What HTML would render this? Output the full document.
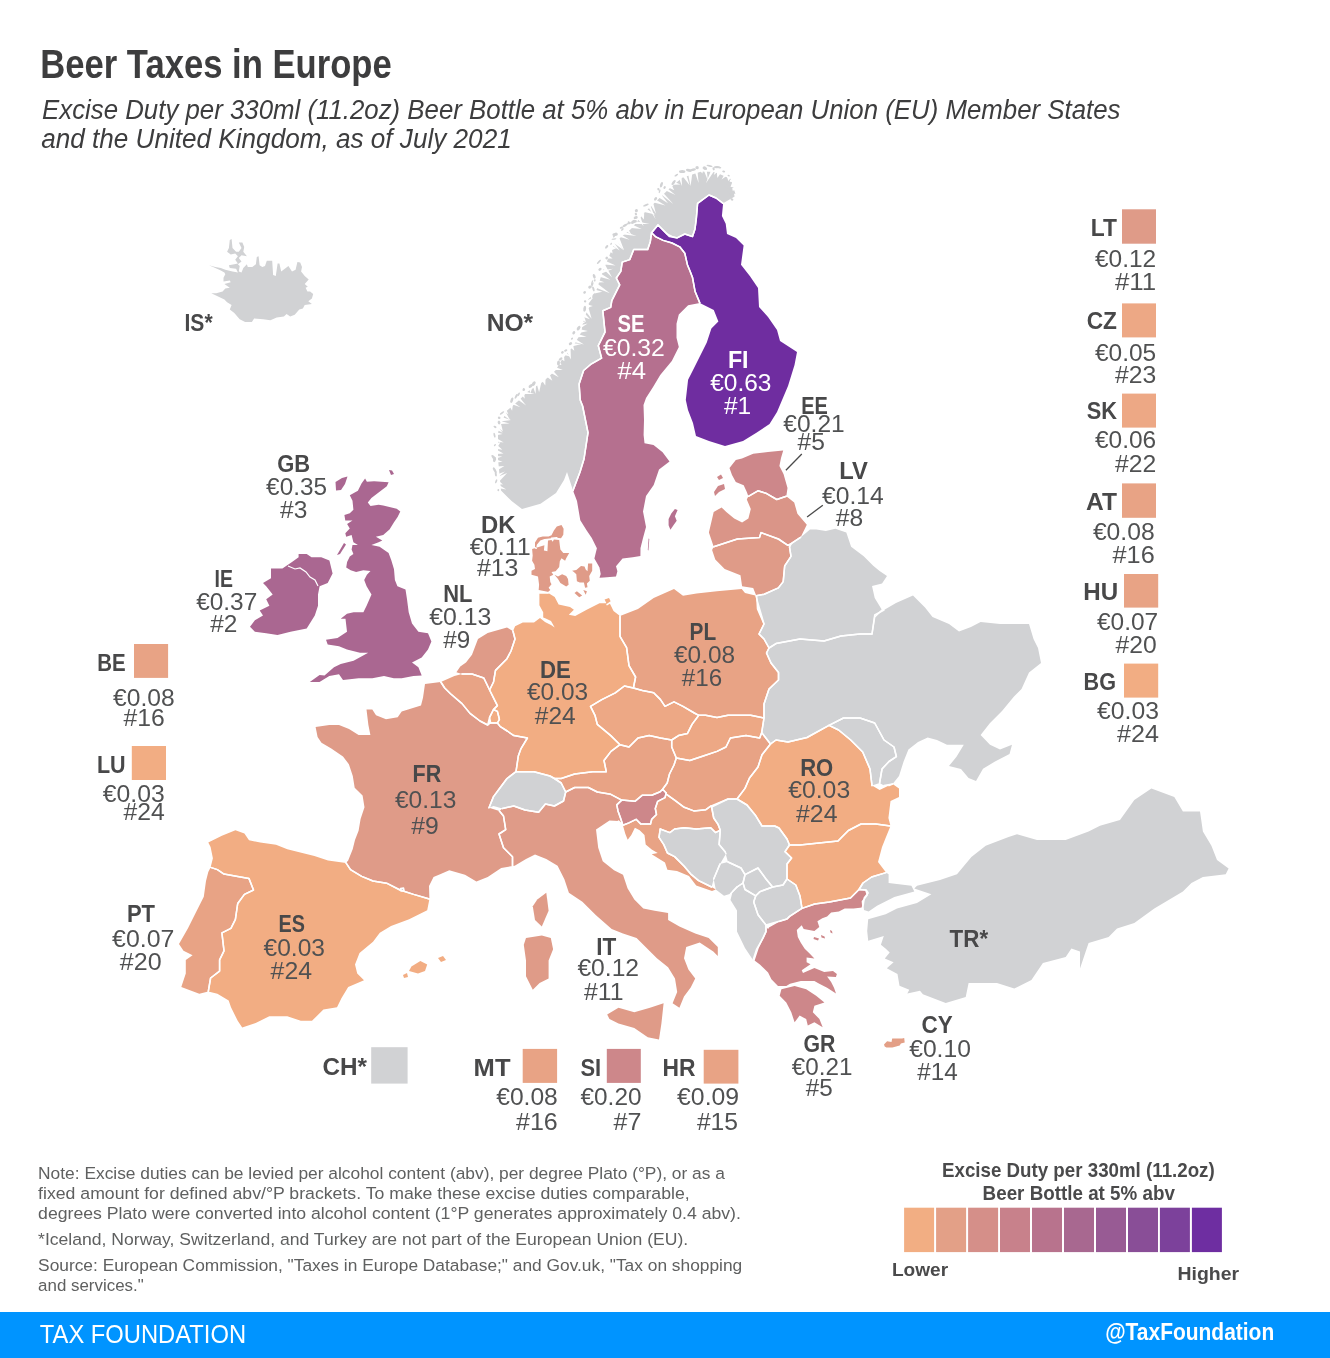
<!DOCTYPE html><html><head><meta charset="utf-8"><title>Beer Taxes in Europe</title><style>html,body{margin:0;padding:0;background:#fff;overflow:hidden}svg{display:block;will-change:transform}text{font-family:"Liberation Sans",Arial,sans-serif}</style></head><body>
<svg width="1330" height="1358" viewBox="0 0 1330 1358">
<rect width="1330" height="1358" fill="#fff"/>
<polygon points="211.3,293.2 224.4,299.5 227.1,302.2 231.6,304.9 229.8,309.4 234.3,313.0 239.7,319.3 245.1,322.0 251.9,322.0 254.1,318.4 263.2,319.3 270.4,320.2 276.7,317.5 283.9,316.6 286.6,313.9 290.2,316.6 294.7,314.8 299.3,309.4 302.9,308.5 304.7,304.9 311.9,304.0 308.3,301.3 311.9,298.6 313.2,294.1 310.1,291.4 307.4,291.4 305.6,287.7 307.8,286.8 304.7,284.1 308.7,279.6 304.7,276.0 301.1,271.5 302.0,267.0 300.2,262.5 297.4,262.0 295.6,269.7 292.0,271.5 288.4,266.1 284.8,268.8 281.2,271.5 279.4,263.4 277.6,263.4 275.8,276.0 273.1,275.1 272.2,260.7 266.8,260.7 265.0,266.1 262.3,267.0 259.6,265.2 258.6,256.2 256.8,257.1 255.9,264.3 252.3,267.0 247.8,267.0 246.9,264.3 243.3,267.9 241.5,272.4 238.8,271.5 239.7,266.1 237.9,264.3 241.5,261.6 238.8,258.0 241.5,255.3 246.9,256.2 243.3,251.7 244.2,247.1 242.4,242.6 238.8,242.6 241.5,248.0 238.8,251.7 236.1,251.7 232.5,248.0 231.6,239.0 229.8,239.9 228.9,248.0 227.1,251.7 230.7,254.4 235.2,253.5 237.9,256.2 235.2,259.8 237.9,263.4 234.3,264.3 228.9,265.2 229.8,267.9 236.1,268.8 237.9,272.4 232.5,271.5 225.3,269.7 220.8,267.9 215.3,267.0 209.0,265.2 215.3,267.9 220.8,270.6 224.4,272.4 225.3,274.2 223.5,277.8 223.5,281.4 229.8,280.5 230.7,282.3 224.4,284.1 229.8,287.7 225.3,288.6 222.6,291.4 216.2,293.2" fill="#d1d2d4"/>
<polygon points="736.0,195.7 730.8,179.0 715.0,172.0 701.4,171.4 682.2,177.8 670.0,188.0 656.7,200.8 645.0,212.0 631.0,229.0 615.0,242.0 602.8,271.3 596.0,291.6 588.1,299.5 589.2,307.4 583.6,318.6 581.3,332.2 573.5,345.7 562.2,359.2 555.4,370.5 543.0,381.8 527.2,392.0 519.3,400.0 506.0,411.6 498.0,432.6 498.0,459.0 501.0,490.5 511.6,501.0 522.0,509.0 540.5,503.7 556.0,493.0 564.0,480.0 567.0,472.0 573.0,490.5 580.0,472.0 584.0,459.0 588.0,432.6 582.6,406.0 580.2,400.0 579.1,384.0 583.6,370.5 591.5,363.8 601.6,358.1 598.3,345.7 605.0,332.2 602.8,310.7 610.7,307.4 611.8,300.6 619.7,284.8 616.3,278.0 620.8,271.3 622.2,262.1 629.8,259.6 633.7,249.4 647.7,249.4 650.3,241.7 651.6,232.7 658.0,225.0 669.5,236.6 677.1,237.9 684.8,234.0 692.5,236.6 695.0,228.9 696.3,218.7 697.6,203.3 709.0,195.0 716.0,198.0 723.1,203.3" fill="#d1d2d4"/>
<polygon points="651.6,232.7 655.4,236.6 663.1,240.4 672.0,243.0 679.7,246.8 684.8,253.2 687.4,264.7 690.0,271.0 692.5,277.5 695.0,291.2 699.8,302.9 688.1,305.2 678.8,314.5 676.5,323.8 676.5,337.8 678.8,347.0 671.8,361.1 660.2,375.1 653.2,386.8 646.0,398.0 643.5,405.0 644.0,420.0 643.6,435.0 644.5,443.3 653.5,445.0 662.6,452.3 669.5,461.6 659.0,469.5 653.7,485.0 646.0,496.0 643.0,511.6 646.0,527.0 643.0,538.0 640.5,548.0 640.4,556.0 632.7,557.3 622.5,558.6 616.0,566.2 617.4,571.3 616.0,576.5 603.7,577.5 599.5,577.7 600.7,574.0 599.5,567.5 594.4,558.6 596.9,548.3 591.8,538.1 586.7,530.4 580.3,520.2 577.0,501.0 573.0,490.5 580.0,472.0 584.0,459.0 588.0,432.6 582.6,406.0 580.2,400.0 579.1,384.0 583.6,370.5 591.5,363.8 601.6,358.1 598.3,345.7 605.0,332.2 602.8,310.7 610.7,307.4 611.8,300.6 619.7,284.8 616.3,278.0 620.8,271.3 622.2,262.1 629.8,259.6 633.7,249.4 647.7,249.4 650.3,241.7" fill="#b5708f"/>
<polygon points="674.9,509.0 677.6,509.9 674.9,516.2 676.7,520.8 674.0,524.4 670.4,529.8 668.6,525.3 668.6,519.0 671.3,513.5" fill="#b5708f"/>
<polygon points="648.6,538.5 649.3,539.0 648.4,550.5 647.8,550.0" fill="#b5708f"/>
<polygon points="658.0,225.0 662.0,229.0 667.0,234.0 672.0,236.5 677.1,237.9 684.8,234.0 692.5,236.6 695.0,228.9 696.3,218.7 697.6,203.3 709.0,195.0 716.0,198.0 723.1,203.3 721.9,216.1 725.7,223.8 727.0,234.0 736.0,237.9 743.6,245.5 741.0,264.7 750.0,276.2 758.0,288.0 759.0,307.0 768.0,317.0 777.0,330.0 780.0,341.0 797.0,352.0 794.5,365.0 788.0,386.0 777.0,412.0 769.5,424.0 756.0,433.0 743.0,441.0 725.0,446.0 709.0,441.0 696.0,436.0 693.0,423.0 688.0,410.0 685.8,400.0 688.1,379.8 692.8,370.5 699.8,356.5 706.8,342.5 711.4,328.5 718.4,321.5 713.8,309.9 699.8,302.9 695.0,291.2 692.5,277.5 690.0,271.0 687.4,264.7 684.8,253.2 679.7,246.8 672.0,243.0 663.1,240.4 655.4,236.6 651.6,232.7" fill="#6f2da0"/>
<polygon points="729.5,467.9 735.8,460.0 742.0,458.5 753.2,453.7 768.0,452.0 783.2,450.5 781.0,458.0 779.4,466.0 783.5,474.0 787.5,488.0 786.3,496.3 776.8,499.5 765.8,493.2 757.9,490.8 748.4,496.3 746.8,492.0 743.7,485.3 735.8,482.1 732.0,475.0" fill="#cd878a"/>
<polygon points="714.0,492.0 718.0,486.0 724.0,484.0 725.0,489.0 719.0,492.0 715.0,496.0" fill="#cd878a"/>
<polygon points="717.0,477.0 721.0,474.5 723.0,478.0 719.0,480.0" fill="#cd878a"/>
<polygon points="713.7,512.1 721.6,507.4 726.3,512.1 734.2,518.4 742.1,522.4 748.4,518.4 750.8,509.0 746.8,499.5 748.4,496.3 757.9,490.8 765.8,493.2 776.8,499.5 786.3,496.3 794.2,502.6 797.4,513.7 806.8,524.7 800.5,537.4 791.1,543.7 787.9,545.3 778.4,539.0 761.1,532.6 759.5,537.4 737.4,539.0 713.7,546.8 708.9,532.6" fill="#da9588"/>
<polygon points="713.7,546.8 737.4,539.0 759.5,537.4 761.1,532.6 778.4,539.0 787.9,545.3 791.1,543.7 789.5,546.8 791.0,556.3 784.7,565.8 783.2,581.6 778.4,587.9 764.2,594.2 756.3,595.8 753.2,587.9 742.1,586.3 740.5,575.3 724.7,569.0 715.3,559.5 712.1,550.0" fill="#df9b88"/>
<polygon points="800.5,537.4 810.0,529.5 816.3,529.5 825.8,531.0 835.3,528.7 846.3,532.6 851.1,546.8 863.7,556.3 873.2,565.8 879.6,571.0 887.0,576.0 882.0,583.5 872.0,586.0 874.7,598.0 882.0,610.0 874.7,617.0 872.0,634.0 860.0,634.0 841.0,636.0 824.0,641.0 800.0,639.0 776.0,643.6 769.0,648.0 764.0,639.0 759.0,634.0 764.0,624.0 757.0,600.0 756.3,595.8 764.2,594.2 778.4,587.9 783.2,581.6 784.7,565.8 791.0,556.3 789.5,546.8 791.1,543.7" fill="#d1d2d4"/>
<polygon points="872.0,634.0 874.7,615.0 884.0,610.0 896.0,603.0 913.0,595.5 925.0,607.5 932.5,617.0 949.0,624.0 959.0,631.6 971.0,627.0 980.6,622.0 1000.0,624.0 1029.0,624.0 1033.5,639.0 1038.0,648.0 1041.0,663.0 1029.0,672.5 1021.5,689.0 1014.0,696.5 1002.0,711.0 990.0,723.0 980.6,735.0 990.0,744.7 1000.0,749.5 1012.0,744.7 1009.5,754.0 995.0,761.5 983.0,768.7 976.0,781.0 968.6,778.0 961.0,769.0 949.0,766.0 956.5,756.7 963.8,744.7 947.0,744.7 937.0,740.0 927.7,737.5 918.0,742.0 908.4,749.5 903.6,761.5 899.0,776.0 892.6,784.0 884.0,785.6 879.6,783.0 882.0,769.0 889.0,761.5 896.4,756.7 894.0,747.0 884.0,740.0 874.7,723.0 860.0,718.0 843.5,718.0 829.0,725.4 807.0,737.5 788.0,742.0 776.0,740.0 770.5,744.0 761.7,732.6 764.0,718.0 764.0,704.0 769.0,689.0 778.5,680.0 778.5,672.5 771.0,663.0 766.5,653.0 769.0,648.0 776.0,643.6 800.0,639.0 824.0,641.0 841.0,636.0 860.0,634.0" fill="#d1d2d4"/>
<polygon points="829.0,725.4 843.5,718.0 860.0,718.0 874.7,723.0 884.0,740.0 894.0,747.0 896.4,756.7 889.0,761.5 882.0,769.0 879.6,783.0 872.0,785.6 870.0,769.0 862.7,752.0 850.7,740.0 838.6,730.0" fill="#d1d2d4"/>
<polygon points="770.5,744.0 776.0,740.0 788.0,742.0 807.0,737.5 829.0,725.4 838.6,730.0 850.7,740.0 862.7,752.0 870.0,769.0 872.0,785.6 879.6,790.0 889.0,785.6 892.6,784.0 899.0,788.4 899.0,797.0 890.5,801.0 888.4,818.0 890.5,826.0 875.8,824.0 861.0,824.0 848.4,830.5 838.0,841.0 819.0,843.0 800.0,845.0 789.5,845.0 787.0,839.0 779.0,828.0 774.7,826.0 762.0,826.0 755.8,815.8 747.0,805.0 737.0,799.0 745.0,788.4 749.5,778.0 758.0,767.0 762.0,754.7" fill="#f2ad83"/>
<polygon points="789.5,845.0 800.0,845.0 819.0,843.0 838.0,841.0 848.4,830.5 861.0,824.0 875.8,824.0 890.5,826.0 886.0,837.0 882.0,847.0 878.0,862.0 886.0,872.6 871.6,877.0 863.0,883.0 859.0,889.5 850.5,898.0 829.5,902.0 814.7,904.0 802.0,908.4 800.0,896.0 795.8,885.0 787.0,879.0 787.0,864.0 791.6,858.0 785.0,851.6" fill="#f2ad83"/>
<polygon points="859.0,889.5 863.0,883.0 871.6,877.0 886.0,872.6 888.6,874.3 888.6,882.9 911.4,885.7 914.3,891.4 894.3,897.0 877.0,905.7 868.6,911.4 863.2,909.8 862.4,901.5 867.4,894.9 865.7,890.0" fill="#d1d2d4"/>
<polygon points="914.3,888.6 917.0,885.7 940.0,880.0 957.0,874.3 971.4,857.0 985.7,845.7 1008.6,837.0 1017.0,834.3 1037.0,840.0 1065.7,840.0 1088.6,831.4 1100.0,825.7 1120.0,820.0 1134.3,800.0 1151.4,788.6 1174.3,797.0 1182.9,811.4 1200.0,811.4 1202.9,831.4 1211.4,845.7 1217.0,860.0 1228.6,868.6 1225.7,874.3 1202.9,877.0 1191.4,882.9 1182.9,891.4 1168.6,900.0 1154.3,908.6 1134.3,922.9 1117.0,928.6 1108.6,937.0 1088.6,942.9 1085.7,951.4 1080.0,968.6 1080.0,951.4 1071.4,948.6 1065.7,957.0 1042.9,962.9 1031.4,980.0 1014.3,988.6 997.0,982.9 968.6,982.9 965.7,997.0 945.7,1002.9 922.9,994.3 920.0,990.7 907.3,993.6 909.3,989.7 899.5,985.8 897.5,974.1 886.8,968.2 893.6,962.3 884.8,958.4 889.7,952.6 885.8,948.7 880.9,944.7 883.8,936.0 868.2,940.8 867.2,931.0 868.2,919.3 885.7,914.3 897.0,908.6 917.0,902.9 931.4,894.3" fill="#d1d2d4"/>
<polygon points="766.0,925.0 768.1,928.0 779.7,921.4 787.0,919.0 789.6,916.4 799.6,909.8 802.0,908.4 814.7,904.0 829.5,902.0 850.5,898.0 859.0,889.5 866.2,890.0 868.2,893.0 864.3,897.8 863.3,904.7 862.3,907.6 853.5,908.6 844.7,908.6 838.9,911.5 831.1,912.5 827.1,916.4 822.3,918.3 817.4,921.3 819.3,927.1 814.4,931.0 803.7,929.1 801.7,925.2 796.8,930.1 797.8,936.9 800.8,942.8 804.7,948.7 809.6,953.5 814.4,958.4 806.6,957.4 806.6,962.3 810.5,964.3 801.7,970.2 803.0,973.0 814.4,968.0 824.2,972.0 833.0,971.0 836.9,974.1 835.9,977.0 827.1,976.5 831.1,981.9 834.0,987.8 836.0,993.6 827.1,987.8 819.3,983.8 814.4,980.9 800.8,980.9 790.0,983.8 786.3,985.9 778.0,985.9 771.4,979.3 768.1,972.6 759.9,964.4 753.2,959.4 756.5,949.5 763.2,937.9 766.0,931.6" fill="#cd878a"/>
<polygon points="781.4,989.2 794.6,985.9 806.2,989.2 816.1,995.8 824.4,1002.4 814.4,1005.7 812.8,1012.3 819.4,1019.0 822.7,1027.2 814.4,1022.3 807.8,1025.6 806.2,1019.0 799.6,1015.6 794.6,1022.3 791.3,1012.3 786.3,1002.4 779.7,995.8" fill="#cd878a"/>
<polygon points="814.0,937.0 819.0,938.5 818.0,940.5 813.5,939.0" fill="#cd878a"/>
<polygon points="821.0,935.0 824.5,936.5 825.0,938.5 821.5,937.5" fill="#cd878a"/>
<polygon points="830.0,930.0 832.0,931.0 832.5,933.5 830.5,932.5" fill="#cd878a"/>
<polygon points="884.0,1044.4 887.1,1041.3 891.5,1042.0 892.2,1038.4 902.1,1038.4 904.2,1037.9 904.7,1042.5 900.9,1043.5 899.7,1045.4 892.4,1047.6 886.4,1047.6 884.7,1046.4" fill="#e39f86"/>
<polygon points="711.6,807.0 728.0,799.0 737.0,799.0 747.0,805.0 755.8,815.8 762.0,826.0 774.7,826.0 779.0,828.0 787.0,839.0 789.5,845.0 785.0,851.6 791.6,858.0 787.0,864.0 787.0,879.0 783.0,885.0 772.6,887.0 766.0,879.0 758.0,868.0 745.0,874.7 741.0,868.0 728.0,862.0 725.1,851.8 719.1,844.6 720.3,830.2 717.9,824.1 713.7,818.0" fill="#d1d2d4"/>
<polygon points="660.2,829.0 669.8,832.6 674.6,829.0 684.2,827.7 696.2,829.0 710.7,827.7 715.5,832.6 720.3,830.2 719.1,844.6 725.1,851.8 726.0,853.7 720.0,864.0 713.7,879.0 711.6,887.0 698.6,880.7 691.4,874.7 684.2,866.2 674.6,856.6 667.4,853.0 663.8,844.6 659.0,837.4" fill="#d1d2d4"/>
<polygon points="713.7,879.0 720.0,864.0 728.0,862.0 741.0,868.0 745.0,874.7 743.0,883.0 737.0,887.0 730.5,893.7 724.0,895.8 715.8,889.5" fill="#d1d2d4"/>
<polygon points="745.0,874.7 758.0,868.0 766.0,879.0 772.6,887.0 760.0,891.6 755.8,895.8 745.0,889.5 743.0,883.0" fill="#d1d2d4"/>
<polygon points="755.8,895.8 760.0,891.6 772.6,887.0 783.0,885.0 787.0,879.0 795.8,885.0 800.0,896.0 802.0,908.4 799.6,909.8 789.6,916.4 787.0,919.0 766.0,925.0 758.0,914.7 753.7,902.0" fill="#d1d2d4"/>
<polygon points="737.0,887.0 743.0,883.0 745.0,889.5 755.8,895.8 753.7,902.0 758.0,914.7 766.0,925.0 766.0,931.6 758.0,948.0 753.7,961.0 745.0,948.0 737.0,931.6 737.0,910.5 730.5,900.0 732.6,891.6" fill="#d1d2d4"/>
<polygon points="666.2,792.9 666.2,794.1 674.6,800.1 684.2,807.3 693.8,810.9 705.9,809.7 710.7,806.1 711.6,807.0 713.7,818.0 717.9,824.1 720.3,830.2 715.5,832.6 710.7,827.7 696.2,829.0 684.2,827.7 674.6,829.0 669.8,832.6 660.2,829.0 659.0,837.4 663.8,844.6 667.4,853.0 674.6,856.6 684.2,866.2 691.4,874.7 698.6,880.7 711.6,887.0 715.8,889.5 712.0,891.0 696.2,885.5 689.0,875.9 677.0,871.0 667.4,869.8 665.0,862.6 651.7,854.2 657.7,853.0 651.7,849.4 645.7,844.6 644.5,835.0 639.7,830.2 634.9,827.7 631.3,835.0 627.7,839.8 625.3,833.8 622.9,825.3 628.9,822.9 636.1,819.3 640.9,824.1 650.5,824.1 651.7,819.3 656.5,814.5 655.3,808.5 657.7,801.3 665.0,797.7" fill="#e8a385"/>
<polygon points="616.8,804.9 621.7,800.1 634.9,801.3 642.1,795.3 651.7,795.3 660.2,791.7 662.6,789.2 666.2,792.9 665.0,797.7 657.7,801.3 655.3,808.5 656.5,814.5 651.7,819.3 650.5,824.1 640.9,824.1 636.1,819.3 628.9,822.9 622.9,825.3 620.5,818.1 618.0,810.9" fill="#cd878a"/>
<polygon points="662.6,789.2 667.2,783.0 669.5,774.0 674.0,765.0 676.3,758.0 689.8,760.5 703.3,756.0 717.0,751.4 726.0,747.0 730.4,738.0 746.0,735.6 759.7,738.0 761.7,732.6 770.5,744.0 762.0,754.7 758.0,767.0 749.5,778.0 745.0,788.4 737.0,799.0 728.0,799.0 710.7,806.1 705.9,809.7 693.8,810.9 684.2,807.3 674.6,800.1 666.2,794.1 666.2,792.9" fill="#e8a385"/>
<polygon points="698.8,715.3 705.6,715.3 717.0,717.6 728.0,715.3 739.4,715.3 750.7,715.3 764.0,718.0 761.7,732.6 759.7,738.0 746.0,735.6 730.4,738.0 726.0,747.0 717.0,751.4 703.3,756.0 689.8,760.5 676.3,758.0 671.7,747.0 671.7,740.0 678.5,735.6 687.5,733.4 692.0,724.4" fill="#eda885"/>
<polygon points="590.5,706.3 601.8,699.6 615.3,692.8 624.4,686.0 633.4,688.0 642.4,690.5 653.7,692.8 660.5,699.6 665.0,706.3 674.0,701.8 683.0,706.3 694.3,713.0 698.8,715.3 692.0,724.4 687.5,733.4 678.5,735.6 671.7,740.0 660.5,738.0 649.2,735.6 638.0,738.0 629.0,747.0 620.0,744.7 610.8,735.6 597.3,724.4 595.0,715.3" fill="#eda885"/>
<polygon points="620.0,744.7 629.0,747.0 638.0,738.0 649.2,735.6 660.5,738.0 671.7,740.0 671.7,747.0 676.3,758.0 674.0,765.0 669.5,774.0 667.2,783.0 662.6,789.2 660.2,791.7 651.7,795.3 642.1,795.3 634.9,801.3 621.7,800.1 610.8,794.3 597.3,792.0 588.3,787.5 574.7,787.5 565.7,792.0 561.2,783.0 554.4,778.5 561.2,778.5 574.7,774.0 592.8,771.7 606.3,771.7 604.0,760.5 611.0,751.4" fill="#e8a385"/>
<polygon points="539.4,593.0 548.3,593.0 554.7,597.0 558.6,604.6 570.0,607.1 573.9,609.7 568.8,614.8 575.2,616.0 586.7,609.7 599.5,603.3 609.7,603.3 613.5,611.0 620.0,616.0 620.0,636.4 626.6,647.7 629.0,665.7 635.6,677.0 633.4,688.0 624.4,686.0 615.3,692.8 601.8,699.6 590.5,706.3 595.0,715.3 597.3,724.4 610.8,735.6 620.0,744.7 611.0,751.4 604.0,760.5 606.3,771.7 592.8,771.7 574.7,774.0 561.2,778.5 554.4,778.5 550.0,776.0 534.0,771.7 516.0,771.7 518.3,756.0 521.0,748.6 527.4,738.0 513.8,735.6 507.2,731.0 500.3,726.6 497.4,723.0 499.4,719.3 497.4,711.4 493.5,709.5 497.4,705.6 493.5,697.8 489.6,690.0 493.5,682.0 495.5,670.4 507.0,658.7 511.0,651.0 515.0,639.0 513.0,631.3 515.1,626.3 522.8,622.5 529.2,622.5 534.0,622.5 540.0,618.0 545.0,622.0 551.0,625.0 554.7,627.6 551.0,621.0 545.8,618.6 543.2,617.4 543.2,612.2 539.4,605.2" fill="#f2ad83"/>
<polygon points="604.6,599.5 609.0,598.0 611.0,602.0 607.0,604.6" fill="#f2ad83"/>
<polygon points="532.1,548.9 544.4,545.3 543.9,550.6 547.4,551.2 548.0,540.6 551.5,540.0 552.7,541.8 553.9,539.4 559.2,540.0 559.8,545.3 560.4,549.5 563.3,553.0 569.2,553.0 566.2,558.3 565.1,560.7 561.5,558.3 559.8,561.2 559.2,567.1 555.6,571.3 551.5,571.9 553.3,574.8 549.7,576.6 550.3,581.9 551.5,584.2 548.6,587.8 550.3,590.1 547.4,592.5 538.6,590.7 539.1,584.8 538.0,576.6 531.5,574.8 531.5,570.7 535.0,568.9 534.4,564.8 532.1,560.7 532.7,555.4" fill="#df9b88"/>
<polygon points="554.5,574.8 558.0,578.9 560.4,583.1 566.2,586.6 568.6,584.8 568.0,578.9 566.2,576.0 562.1,574.2 558.0,576.6" fill="#df9b88"/>
<polygon points="572.1,570.7 576.3,570.1 581.0,566.0 584.5,566.6 585.7,569.5 587.5,571.3 588.1,563.6 592.2,563.6 592.2,570.7 589.2,576.0 589.8,580.7 586.9,583.6 587.5,587.2 585.1,587.8 583.9,582.5 579.8,582.5 576.9,581.3 576.3,574.2 573.9,571.9" fill="#df9b88"/>
<polygon points="574.5,593.1 576.9,591.3 582.2,595.4 579.2,597.2" fill="#df9b88"/>
<polygon points="535.0,547.7 535.0,542.4 538.0,537.7 542.7,536.5 548.6,536.5 551.5,535.3 553.9,530.6 556.8,526.5 561.5,525.0 563.6,528.8 563.3,534.7 561.0,538.3 556.8,537.7 551.5,538.3 544.4,538.9 540.3,540.6 536.8,544.7 536.2,548.3" fill="#df9b88"/>
<polygon points="583.3,590.1 586.9,591.3 585.7,594.8" fill="#df9b88"/>
<polygon points="620.0,616.0 638.0,609.0 653.7,598.0 674.0,589.0 683.0,595.8 696.6,593.5 717.0,591.3 741.7,589.0 745.0,593.0 756.3,595.8 757.0,600.0 757.5,609.0 764.0,624.0 759.0,634.0 764.0,639.0 769.0,648.0 766.5,653.0 771.0,663.0 778.5,672.5 778.5,680.0 769.0,689.0 764.0,704.0 764.0,718.0 750.7,715.3 739.4,715.3 728.0,715.3 717.0,717.6 705.6,715.3 698.8,715.3 694.3,713.0 683.0,706.3 674.0,701.8 665.0,706.3 660.5,699.6 653.7,692.8 642.4,690.5 633.4,688.0 635.6,677.0 629.0,665.7 626.6,647.7 620.0,636.4" fill="#e8a385"/>
<polygon points="466.0,662.6 472.0,654.7 478.0,639.0 487.7,633.0 507.0,627.4 513.0,631.3 515.0,639.0 511.0,651.0 507.0,658.7 495.5,670.4 493.5,682.0 489.6,690.0 483.8,678.0 472.0,674.0 462.0,674.0 456.4,672.3 460.3,666.5" fill="#df9b88"/>
<polygon points="440.8,682.0 454.4,676.0 462.0,674.0 472.0,674.0 483.8,678.0 489.6,690.0 493.5,697.8 497.4,705.6 493.5,709.5 489.6,717.3 487.7,725.0 480.0,721.0 470.0,713.4 462.0,703.6 450.5,693.8 444.7,688.0" fill="#e8a385"/>
<polygon points="493.5,709.5 497.4,711.4 499.4,719.3 497.4,723.0 490.6,723.0 489.6,717.3" fill="#f2ad83"/>
<polygon points="425.0,684.0 440.8,682.0 444.7,688.0 450.5,693.8 462.0,703.6 470.0,713.4 480.0,721.0 487.7,725.0 490.6,723.0 497.4,723.0 500.3,726.6 507.2,731.0 513.8,735.6 527.4,738.0 521.0,748.6 518.3,756.0 516.0,771.7 507.0,778.5 500.3,787.5 493.5,796.6 489.0,807.8 499.4,811.0 503.5,816.0 505.7,829.6 499.0,834.0 503.5,847.7 512.5,856.7 512.5,866.0 501.2,868.0 487.7,877.0 476.4,881.5 465.0,874.7 449.3,870.2 440.7,874.0 433.5,877.0 429.0,886.0 429.4,899.0 413.6,894.4 400.0,890.0 386.6,883.2 373.0,881.0 361.7,876.4 350.5,869.6 346.0,862.9 348.2,860.6 352.7,849.3 355.0,840.0 358.6,830.7 360.6,819.0 364.5,807.2 362.6,795.5 354.7,787.7 352.8,776.0 348.9,764.2 343.0,756.4 331.3,748.6 321.5,742.7 317.6,736.9 315.6,727.0 329.3,725.0 339.0,725.0 349.0,729.0 358.6,735.0 370.4,735.0 368.4,725.0 366.5,709.5 372.3,709.5 376.0,715.3 386.0,719.3 397.7,717.3 401.7,711.4 421.0,705.6 423.0,697.8" fill="#df9b88"/>
<polygon points="546.3,892.8 548.6,910.8 541.8,926.6 535.0,919.9 532.8,906.3 537.3,899.6" fill="#df9b88"/>
<polygon points="516.0,771.7 534.0,771.7 550.0,776.0 554.4,778.5 561.2,783.0 565.7,792.0 563.5,801.0 554.4,806.0 545.4,804.0 538.6,812.3 525.0,810.0 513.8,806.0 502.5,808.5 493.5,806.0 489.0,807.8 493.5,796.6 500.3,787.5 507.0,778.5" fill="#d1d2d4"/>
<polygon points="499.4,811.0 502.5,808.5 513.8,806.0 525.0,810.0 538.6,812.3 545.4,804.0 554.4,806.0 563.5,801.0 565.7,792.0 574.7,787.5 588.3,787.5 597.3,792.0 610.8,794.3 621.7,800.1 616.8,804.9 618.0,810.9 620.5,818.1 622.9,825.3 618.5,821.0 609.5,820.6 596.0,829.6 598.2,847.7 602.7,861.2 614.0,870.2 623.0,874.7 627.5,888.3 634.3,899.6 643.3,908.6 654.6,910.8 668.1,913.0 668.1,919.9 679.4,926.6 695.2,933.4 708.7,938.0 717.8,947.0 717.8,956.0 713.3,951.4 699.7,942.4 686.2,947.0 684.0,958.2 688.4,969.5 695.2,978.5 690.7,987.5 684.0,996.6 679.4,1007.8 672.6,1003.3 677.2,992.0 675.0,978.5 668.1,967.2 656.9,958.2 645.6,947.0 636.6,938.0 623.0,933.4 611.7,928.9 596.0,915.3 582.4,901.8 568.9,892.8 564.4,879.3 557.6,865.7 546.3,859.0 535.0,854.4 526.0,859.0 514.7,865.7 512.5,866.0 512.5,856.7 503.5,847.7 499.0,834.0 505.7,829.6 503.5,816.0" fill="#df9b88"/>
<polygon points="607.2,1014.6 618.5,1007.8 634.3,1012.3 650.0,1007.8 663.6,1003.3 661.4,1023.6 659.0,1039.4 647.8,1037.2 634.3,1028.1 618.5,1023.6 609.5,1019.1" fill="#df9b88"/>
<polygon points="526.0,938.0 541.8,935.6 550.8,938.0 553.1,949.2 548.6,960.5 548.6,978.5 539.6,983.0 532.8,989.8 526.0,976.3 526.0,960.5 523.8,944.7" fill="#df9b88"/>
<polygon points="208.3,842.6 221.9,835.8 235.4,830.2 244.4,833.5 249.0,840.3 260.2,842.6 276.0,844.8 287.3,849.3 305.3,853.8 314.4,856.0 328.0,860.6 346.0,862.9 350.5,869.6 361.7,876.4 373.0,881.0 386.6,883.2 400.0,890.0 413.6,894.4 429.4,899.0 427.2,910.2 409.1,919.3 391.0,926.0 379.8,932.8 373.0,941.8 359.5,953.0 355.0,964.4 357.2,973.4 364.0,980.2 348.2,987.0 341.4,998.2 337.0,1007.2 323.4,1009.5 312.0,1020.8 300.8,1020.8 287.3,1016.3 269.3,1016.3 255.7,1023.0 242.2,1027.5 237.7,1020.8 231.0,1007.2 228.7,1000.5 217.4,993.7 208.3,991.4 210.6,978.0 219.6,971.1 219.6,959.9 224.0,950.8 221.9,932.8 230.9,928.3 235.4,919.3 237.7,903.5 244.4,894.4 253.5,890.0 249.0,878.6 237.7,876.4 224.0,874.1 217.4,869.6 210.6,867.4 212.9,858.3 210.6,847.0" fill="#f2ad83"/>
<polygon points="400.5,888.5 403.5,888.0 404.0,890.5 401.0,891.0" fill="#d1d2d4"/>
<polygon points="411.4,966.6 420.4,961.0 427.2,964.4 425.0,971.0 418.0,973.4 409.0,971.0" fill="#f2ad83"/>
<polygon points="438.0,958.0 443.0,956.0 446.0,960.0 441.0,962.0" fill="#f2ad83"/>
<polygon points="403.0,975.0 407.0,973.0 408.0,977.0 404.0,978.0" fill="#f2ad83"/>
<polygon points="210.6,867.4 217.4,869.6 224.0,874.1 237.7,876.4 249.0,878.6 253.5,890.0 244.4,894.4 237.7,903.5 235.4,919.3 230.9,928.3 221.9,932.8 224.0,950.8 219.6,959.9 219.6,971.1 210.6,978.0 208.3,991.4 199.3,993.7 181.3,987.0 185.8,973.4 185.8,959.9 192.6,955.3 183.5,950.8 179.0,944.0 188.0,928.3 197.0,910.2 203.8,896.7 206.0,881.0 208.3,871.9" fill="#e8a385"/>
<polygon points="365.1,478.6 366.9,481.7 374.1,481.3 388.6,482.2 386.8,486.2 378.6,492.6 371.4,498.0 367.8,502.5 370.5,506.1 378.6,504.7 383.2,505.6 396.7,508.8 400.3,511.5 397.6,516.9 394.0,522.3 389.5,529.5 383.2,535.0 375.9,536.8 382.3,540.4 378.6,542.2 371.4,544.9 379.6,546.7 388.6,553.0 391.3,560.2 394.0,569.3 394.9,580.0 397.4,586.3 405.5,589.6 407.0,599.3 408.7,612.2 412.0,623.6 418.4,631.7 428.0,633.3 431.4,641.4 428.0,649.5 421.7,657.6 412.0,662.4 418.4,667.3 421.7,675.4 413.4,676.0 401.7,678.2 393.8,678.2 384.0,676.0 372.3,678.2 358.6,678.2 343.0,680.0 339.0,674.3 329.3,676.0 319.5,682.0 309.8,682.0 319.6,675.0 324.5,675.4 334.0,667.3 340.7,664.0 353.6,660.8 368.2,652.7 360.0,652.7 347.0,649.5 339.0,646.2 327.7,644.6 326.0,639.8 337.5,638.0 347.0,631.7 345.5,618.7 340.7,618.7 347.0,613.8 353.6,612.2 363.4,612.2 366.6,605.7 371.5,594.4 366.6,586.3 364.2,580.0 366.9,574.7 370.5,571.1 363.3,570.2 356.1,572.0 350.7,570.2 346.2,567.4 347.1,562.0 349.8,556.6 353.4,553.9 351.6,549.4 352.5,544.9 357.9,544.9 353.4,542.2 351.6,535.0 346.2,536.8 345.3,533.2 349.8,528.6 347.1,524.1 352.5,520.5 345.3,520.5 344.4,515.1 349.8,513.3 353.4,509.7 352.5,500.7 349.8,495.3 357.9,490.8 361.5,483.5" fill="#aa6791"/>
<polygon points="335.5,482.0 342.0,478.0 347.5,476.5 345.0,484.0 341.0,490.0 336.0,490.5" fill="#aa6791"/>
<polygon points="344.0,543.0 346.0,544.5 340.0,554.0 337.0,555.0" fill="#aa6791"/>
<polygon points="389.0,470.0 392.0,470.5 394.0,474.0 391.0,475.0" fill="#aa6791"/>
<polygon points="298.6,554.0 306.7,554.0 311.5,557.2 321.3,557.2 329.4,560.4 332.6,573.4 327.7,583.0 319.6,586.3 318.0,594.4 318.0,605.7 314.8,615.5 306.7,628.4 290.5,631.7 277.5,635.0 266.2,633.3 254.9,631.7 250.0,626.8 254.9,620.3 263.0,615.5 259.7,610.6 269.4,605.7 266.2,599.3 272.7,594.4 266.2,586.3 263.0,583.0 271.0,578.2 271.0,568.5 282.4,568.5 292.0,562.0 298.6,557.2" fill="#aa6791"/>
<g fill="none" stroke="#fff" stroke-width="1.5" stroke-linejoin="round" stroke-linecap="round">
<polyline points="573.0,490.5 580.0,472.0 584.0,459.0 588.0,432.6 582.6,406.0 580.2,400.0 579.1,384.0 583.6,370.5 591.5,363.8 601.6,358.1 598.3,345.7 605.0,332.2 602.8,310.7 610.7,307.4 611.8,300.6 619.7,284.8 616.3,278.0 620.8,271.3 622.2,262.1 629.8,259.6 633.7,249.4 647.7,249.4 650.3,241.7 651.6,232.7 658.0,225.0 669.5,236.6 677.1,237.9 684.8,234.0 692.5,236.6 695.0,228.9 696.3,218.7 697.6,203.3 709.0,195.0 716.0,198.0 723.1,203.3"/>
<polyline points="651.6,232.7 655.4,236.6 663.1,240.4 672.0,243.0 679.7,246.8 684.8,253.2 687.4,264.7 690.0,271.0 692.5,277.5 695.0,291.2 699.8,302.9"/>
<polyline points="573.0,490.5 580.0,472.0 584.0,459.0 588.0,432.6 582.6,406.0 580.2,400.0 579.1,384.0 583.6,370.5 591.5,363.8 601.6,358.1 598.3,345.7 605.0,332.2 602.8,310.7 610.7,307.4 611.8,300.6 619.7,284.8 616.3,278.0 620.8,271.3 622.2,262.1 629.8,259.6 633.7,249.4 647.7,249.4 650.3,241.7 651.6,232.7"/>
<polyline points="658.0,225.0 662.0,229.0 667.0,234.0 672.0,236.5 677.1,237.9 684.8,234.0 692.5,236.6 695.0,228.9 696.3,218.7 697.6,203.3 709.0,195.0 716.0,198.0 723.1,203.3"/>
<polyline points="699.8,302.9 695.0,291.2 692.5,277.5 690.0,271.0 687.4,264.7 684.8,253.2 679.7,246.8 672.0,243.0 663.1,240.4 655.4,236.6 651.6,232.7 658.0,225.0"/>
<polyline points="786.3,496.3 776.8,499.5 765.8,493.2 757.9,490.8 748.4,496.3"/>
<polyline points="748.4,496.3 757.9,490.8 765.8,493.2 776.8,499.5 786.3,496.3"/>
<polyline points="800.5,537.4 791.1,543.7 787.9,545.3 778.4,539.0 761.1,532.6 759.5,537.4 737.4,539.0 713.7,546.8"/>
<polyline points="713.7,546.8 737.4,539.0 759.5,537.4 761.1,532.6 778.4,539.0 787.9,545.3 791.1,543.7 789.5,546.8 791.0,556.3 784.7,565.8 783.2,581.6 778.4,587.9 764.2,594.2 756.3,595.8"/>
<polyline points="882.0,610.0 874.7,617.0 872.0,634.0 860.0,634.0 841.0,636.0 824.0,641.0 800.0,639.0 776.0,643.6 769.0,648.0 764.0,639.0 759.0,634.0 764.0,624.0 757.0,600.0 756.3,595.8 764.2,594.2 778.4,587.9 783.2,581.6 784.7,565.8 791.0,556.3 789.5,546.8 791.1,543.7 800.5,537.4"/>
<polyline points="872.0,634.0 874.7,615.0 884.0,610.0"/>
<polyline points="892.6,784.0 884.0,785.6"/>
<polyline points="879.6,783.0 882.0,769.0 889.0,761.5 896.4,756.7 894.0,747.0 884.0,740.0 874.7,723.0 860.0,718.0 843.5,718.0 829.0,725.4 807.0,737.5 788.0,742.0 776.0,740.0 770.5,744.0 761.7,732.6 764.0,718.0 764.0,704.0 769.0,689.0 778.5,680.0 778.5,672.5 771.0,663.0 766.5,653.0 769.0,648.0 776.0,643.6 800.0,639.0 824.0,641.0 841.0,636.0 860.0,634.0 872.0,634.0"/>
<polyline points="829.0,725.4 843.5,718.0 860.0,718.0 874.7,723.0 884.0,740.0 894.0,747.0 896.4,756.7 889.0,761.5 882.0,769.0 879.6,783.0"/>
<polyline points="872.0,785.6 870.0,769.0 862.7,752.0 850.7,740.0 838.6,730.0 829.0,725.4"/>
<polyline points="770.5,744.0 776.0,740.0 788.0,742.0 807.0,737.5 829.0,725.4 838.6,730.0 850.7,740.0 862.7,752.0 870.0,769.0 872.0,785.6"/>
<polyline points="889.0,785.6 892.6,784.0"/>
<polyline points="890.5,826.0 875.8,824.0 861.0,824.0 848.4,830.5 838.0,841.0 819.0,843.0 800.0,845.0 789.5,845.0 787.0,839.0 779.0,828.0 774.7,826.0 762.0,826.0 755.8,815.8 747.0,805.0 737.0,799.0 745.0,788.4 749.5,778.0 758.0,767.0 762.0,754.7 770.5,744.0"/>
<polyline points="789.5,845.0 800.0,845.0 819.0,843.0 838.0,841.0 848.4,830.5 861.0,824.0 875.8,824.0 890.5,826.0"/>
<polyline points="886.0,872.6 871.6,877.0 863.0,883.0 859.0,889.5 850.5,898.0 829.5,902.0 814.7,904.0 802.0,908.4 800.0,896.0 795.8,885.0 787.0,879.0 787.0,864.0 791.6,858.0 785.0,851.6 789.5,845.0"/>
<polyline points="859.0,889.5 863.0,883.0 871.6,877.0 886.0,872.6"/>
<polyline points="863.2,909.8 862.4,901.5 867.4,894.9 865.7,890.0 859.0,889.5"/>
<polyline points="766.0,925.0 768.1,928.0"/>
<polyline points="779.7,921.4 787.0,919.0 789.6,916.4 799.6,909.8 802.0,908.4 814.7,904.0 829.5,902.0 850.5,898.0 859.0,889.5 866.2,890.0 868.2,893.0 864.3,897.8 863.3,904.7 862.3,907.6"/>
<polyline points="753.2,959.4 756.5,949.5 763.2,937.9 766.0,931.6 766.0,925.0"/>
<polyline points="711.6,807.0 728.0,799.0 737.0,799.0 747.0,805.0 755.8,815.8 762.0,826.0 774.7,826.0 779.0,828.0 787.0,839.0 789.5,845.0 785.0,851.6 791.6,858.0 787.0,864.0 787.0,879.0 783.0,885.0 772.6,887.0 766.0,879.0 758.0,868.0 745.0,874.7 741.0,868.0 728.0,862.0"/>
<polyline points="725.1,851.8 719.1,844.6 720.3,830.2 717.9,824.1 713.7,818.0 711.6,807.0"/>
<polyline points="660.2,829.0 669.8,832.6 674.6,829.0 684.2,827.7 696.2,829.0 710.7,827.7 715.5,832.6 720.3,830.2 719.1,844.6 725.1,851.8 726.0,853.7"/>
<polyline points="720.0,864.0 713.7,879.0"/>
<polyline points="711.6,887.0 698.6,880.7 691.4,874.7 684.2,866.2 674.6,856.6 667.4,853.0 663.8,844.6 659.0,837.4 660.2,829.0"/>
<polyline points="713.7,879.0 720.0,864.0"/>
<polyline points="728.0,862.0 741.0,868.0 745.0,874.7 743.0,883.0 737.0,887.0 730.5,893.7"/>
<polyline points="745.0,874.7 758.0,868.0 766.0,879.0 772.6,887.0 760.0,891.6 755.8,895.8 745.0,889.5 743.0,883.0 745.0,874.7"/>
<polyline points="755.8,895.8 760.0,891.6 772.6,887.0 783.0,885.0 787.0,879.0 795.8,885.0 800.0,896.0 802.0,908.4 799.6,909.8 789.6,916.4 787.0,919.0 766.0,925.0 758.0,914.7 753.7,902.0 755.8,895.8"/>
<polyline points="737.0,887.0 743.0,883.0 745.0,889.5 755.8,895.8 753.7,902.0 758.0,914.7 766.0,925.0 766.0,931.6 758.0,948.0 753.7,961.0"/>
<polyline points="732.6,891.6 737.0,887.0"/>
<polyline points="666.2,792.9 666.2,794.1 674.6,800.1 684.2,807.3 693.8,810.9 705.9,809.7 710.7,806.1 711.6,807.0 713.7,818.0 717.9,824.1 720.3,830.2 715.5,832.6 710.7,827.7 696.2,829.0 684.2,827.7 674.6,829.0 669.8,832.6 660.2,829.0 659.0,837.4 663.8,844.6 667.4,853.0 674.6,856.6 684.2,866.2 691.4,874.7 698.6,880.7 711.6,887.0"/>
<polyline points="622.9,825.3 628.9,822.9 636.1,819.3 640.9,824.1 650.5,824.1 651.7,819.3 656.5,814.5 655.3,808.5 657.7,801.3 665.0,797.7 666.2,792.9"/>
<polyline points="616.8,804.9 621.7,800.1 634.9,801.3 642.1,795.3 651.7,795.3 660.2,791.7 662.6,789.2 666.2,792.9 665.0,797.7 657.7,801.3 655.3,808.5 656.5,814.5 651.7,819.3 650.5,824.1 640.9,824.1 636.1,819.3 628.9,822.9 622.9,825.3 620.5,818.1 618.0,810.9 616.8,804.9"/>
<polyline points="662.6,789.2 667.2,783.0 669.5,774.0 674.0,765.0 676.3,758.0 689.8,760.5 703.3,756.0 717.0,751.4 726.0,747.0 730.4,738.0 746.0,735.6 759.7,738.0 761.7,732.6 770.5,744.0 762.0,754.7 758.0,767.0 749.5,778.0 745.0,788.4 737.0,799.0 728.0,799.0 710.7,806.1 705.9,809.7 693.8,810.9 684.2,807.3 674.6,800.1 666.2,794.1 666.2,792.9 662.6,789.2"/>
<polyline points="698.8,715.3 705.6,715.3 717.0,717.6 728.0,715.3 739.4,715.3 750.7,715.3 764.0,718.0 761.7,732.6 759.7,738.0 746.0,735.6 730.4,738.0 726.0,747.0 717.0,751.4 703.3,756.0 689.8,760.5 676.3,758.0 671.7,747.0 671.7,740.0 678.5,735.6 687.5,733.4 692.0,724.4 698.8,715.3"/>
<polyline points="590.5,706.3 601.8,699.6 615.3,692.8 624.4,686.0 633.4,688.0 642.4,690.5 653.7,692.8 660.5,699.6 665.0,706.3 674.0,701.8 683.0,706.3 694.3,713.0 698.8,715.3 692.0,724.4 687.5,733.4 678.5,735.6 671.7,740.0 660.5,738.0 649.2,735.6 638.0,738.0 629.0,747.0 620.0,744.7 610.8,735.6 597.3,724.4 595.0,715.3 590.5,706.3"/>
<polyline points="620.0,744.7 629.0,747.0 638.0,738.0 649.2,735.6 660.5,738.0 671.7,740.0 671.7,747.0 676.3,758.0 674.0,765.0 669.5,774.0 667.2,783.0 662.6,789.2 660.2,791.7 651.7,795.3 642.1,795.3 634.9,801.3 621.7,800.1 610.8,794.3 597.3,792.0 588.3,787.5 574.7,787.5 565.7,792.0 561.2,783.0 554.4,778.5 561.2,778.5 574.7,774.0 592.8,771.7 606.3,771.7 604.0,760.5 611.0,751.4 620.0,744.7"/>
<polyline points="539.4,593.0 548.3,593.0"/>
<polyline points="620.0,616.0 620.0,636.4 626.6,647.7 629.0,665.7 635.6,677.0 633.4,688.0 624.4,686.0 615.3,692.8 601.8,699.6 590.5,706.3 595.0,715.3 597.3,724.4 610.8,735.6 620.0,744.7 611.0,751.4 604.0,760.5 606.3,771.7 592.8,771.7 574.7,774.0 561.2,778.5 554.4,778.5 550.0,776.0 534.0,771.7 516.0,771.7 518.3,756.0 521.0,748.6 527.4,738.0 513.8,735.6 507.2,731.0 500.3,726.6 497.4,723.0 499.4,719.3 497.4,711.4 493.5,709.5 497.4,705.6 493.5,697.8 489.6,690.0 493.5,682.0 495.5,670.4 507.0,658.7 511.0,651.0 515.0,639.0 513.0,631.3"/>
<polyline points="611.0,602.0 607.0,604.6"/>
<polyline points="547.4,592.5 538.6,590.7"/>
<polyline points="556.8,537.7 551.5,538.3"/>
<polyline points="536.2,548.3 535.0,547.7"/>
<polyline points="756.3,595.8 757.0,600.0 757.5,609.0 764.0,624.0 759.0,634.0 764.0,639.0 769.0,648.0 766.5,653.0 771.0,663.0 778.5,672.5 778.5,680.0 769.0,689.0 764.0,704.0 764.0,718.0 750.7,715.3 739.4,715.3 728.0,715.3 717.0,717.6 705.6,715.3 698.8,715.3 694.3,713.0 683.0,706.3 674.0,701.8 665.0,706.3 660.5,699.6 653.7,692.8 642.4,690.5 633.4,688.0 635.6,677.0 629.0,665.7 626.6,647.7 620.0,636.4 620.0,616.0"/>
<polyline points="513.0,631.3 515.0,639.0 511.0,651.0 507.0,658.7 495.5,670.4 493.5,682.0 489.6,690.0 483.8,678.0 472.0,674.0 462.0,674.0"/>
<polyline points="462.0,674.0 472.0,674.0 483.8,678.0 489.6,690.0 493.5,697.8 497.4,705.6 493.5,709.5 489.6,717.3 487.7,725.0 480.0,721.0 470.0,713.4 462.0,703.6 450.5,693.8 444.7,688.0 440.8,682.0"/>
<polyline points="493.5,709.5 497.4,711.4 499.4,719.3 497.4,723.0 490.6,723.0 489.6,717.3 493.5,709.5"/>
<polyline points="440.8,682.0 444.7,688.0 450.5,693.8 462.0,703.6 470.0,713.4 480.0,721.0 487.7,725.0 490.6,723.0 497.4,723.0 500.3,726.6 507.2,731.0 513.8,735.6 527.4,738.0 521.0,748.6 518.3,756.0 516.0,771.7 507.0,778.5 500.3,787.5 493.5,796.6 489.0,807.8"/>
<polyline points="499.4,811.0 503.5,816.0 505.7,829.6 499.0,834.0 503.5,847.7 512.5,856.7 512.5,866.0"/>
<polyline points="429.4,899.0 413.6,894.4 400.0,890.0 386.6,883.2 373.0,881.0 361.7,876.4 350.5,869.6 346.0,862.9"/>
<polyline points="516.0,771.7 534.0,771.7 550.0,776.0 554.4,778.5 561.2,783.0 565.7,792.0 563.5,801.0 554.4,806.0 545.4,804.0 538.6,812.3 525.0,810.0 513.8,806.0 502.5,808.5"/>
<polyline points="489.0,807.8 493.5,796.6 500.3,787.5 507.0,778.5 516.0,771.7"/>
<polyline points="502.5,808.5 513.8,806.0 525.0,810.0 538.6,812.3 545.4,804.0 554.4,806.0 563.5,801.0 565.7,792.0 574.7,787.5 588.3,787.5 597.3,792.0 610.8,794.3 621.7,800.1 616.8,804.9 618.0,810.9 620.5,818.1 622.9,825.3 618.5,821.0"/>
<polyline points="512.5,866.0 512.5,856.7 503.5,847.7 499.0,834.0 505.7,829.6 503.5,816.0 499.4,811.0"/>
<polyline points="346.0,862.9 350.5,869.6 361.7,876.4 373.0,881.0 386.6,883.2 400.0,890.0 413.6,894.4 429.4,899.0"/>
<polyline points="208.3,991.4 210.6,978.0 219.6,971.1 219.6,959.9 224.0,950.8 221.9,932.8 230.9,928.3 235.4,919.3 237.7,903.5 244.4,894.4 253.5,890.0 249.0,878.6 237.7,876.4 224.0,874.1 217.4,869.6 210.6,867.4"/>
<polyline points="400.5,888.5 403.5,888.0 404.0,890.5 401.0,891.0 400.5,888.5"/>
<polyline points="210.6,867.4 217.4,869.6 224.0,874.1 237.7,876.4 249.0,878.6 253.5,890.0 244.4,894.4 237.7,903.5 235.4,919.3 230.9,928.3 221.9,932.8 224.0,950.8 219.6,959.9 219.6,971.1 210.6,978.0 208.3,991.4"/>
</g>
<g fill="#fff">
<polygon points="735.0,198.3 734.0,193.8 743.3,194.1"/>
<polygon points="732.7,190.7 732.3,188.0 743.7,187.8"/>
<polygon points="730.5,186.7 732.2,182.6 745.6,190.6"/>
<polygon points="729.7,181.8 730.1,179.4 744.7,183.4"/>
<polygon points="726.8,176.2 731.5,177.1 728.3,181.1"/>
<polygon points="724.5,174.2 726.5,176.0 721.6,179.4"/>
<polygon points="716.8,171.5 721.1,172.7 717.3,177.9"/>
<polygon points="715.0,170.2 717.6,171.7 713.9,174.9"/>
<polygon points="711.3,169.8 714.0,171.2 705.9,183.3"/>
<polygon points="703.9,170.5 706.7,169.8 707.9,180.5"/>
<polygon points="699.8,170.5 703.1,169.5 702.4,173.5"/>
<polygon points="694.8,171.8 697.5,171.3 698.6,183.1"/>
<polygon points="688.0,173.7 692.3,173.6 690.6,186.0"/>
<polygon points="682.8,176.4 686.2,174.6 689.6,185.2"/>
<polygon points="678.9,178.0 681.5,177.4 682.1,186.3"/>
<polygon points="673.6,184.7 674.2,181.7 680.4,184.4"/>
<polygon points="668.5,187.6 671.5,184.5 674.2,190.2"/>
<polygon points="665.7,190.6 667.2,188.2 675.4,194.9"/>
<polygon points="661.2,194.5 662.9,192.6 673.3,203.9"/>
<polygon points="658.4,197.3 661.0,194.3 668.0,203.2"/>
<polygon points="653.9,202.6 655.2,199.3 665.4,205.4"/>
<polygon points="650.1,204.3 653.2,203.0 656.0,213.7"/>
<polygon points="648.0,206.6 650.4,205.4 655.6,219.2"/>
<polygon points="644.2,212.1 645.7,208.2 655.4,214.5"/>
<polygon points="639.7,214.4 644.2,212.9 643.9,219.4"/>
<polygon points="637.1,218.3 640.2,216.6 643.6,226.3"/>
<polygon points="634.6,223.9 634.9,221.0 649.6,224.1"/>
<polygon points="631.1,227.9 632.1,224.4 641.6,228.9"/>
<polygon points="626.3,231.0 628.3,229.2 631.7,235.2"/>
<polygon points="623.8,234.5 624.4,231.7 636.6,235.9"/>
<polygon points="620.0,237.1 621.1,234.5 629.6,239.7"/>
<polygon points="615.3,239.4 619.1,237.2 624.1,250.2"/>
<polygon points="612.7,242.2 615.8,239.2 623.8,250.2"/>
<polygon points="611.5,245.1 614.0,242.5 619.7,250.4"/>
<polygon points="611.0,250.4 610.9,246.0 616.7,248.0"/>
<polygon points="608.9,250.9 611.9,249.1 612.6,253.6"/>
<polygon points="606.6,258.6 608.0,254.7 612.6,258.5"/>
<polygon points="604.3,264.6 605.3,260.8 615.5,265.5"/>
<polygon points="601.9,267.4 605.2,264.9 612.1,277.6"/>
<polygon points="601.7,273.6 600.8,270.5 613.0,268.7"/>
<polygon points="599.2,276.8 600.7,273.5 610.4,279.8"/>
<polygon points="597.7,282.4 598.2,279.9 604.4,282.3"/>
<polygon points="595.4,287.5 597.5,283.8 609.9,293.3"/>
<polygon points="594.5,293.5 594.6,289.5 602.4,291.7"/>
<polygon points="589.3,295.2 592.6,294.5 591.9,299.1"/>
<polygon points="588.4,303.7 586.0,300.7 593.2,297.4"/>
<polygon points="587.6,307.8 587.5,304.4 592.8,305.9"/>
<polygon points="585.0,310.4 588.7,308.5 591.6,318.7"/>
<polygon points="582.6,316.7 584.8,313.4 589.9,319.2"/>
<polygon points="580.8,319.7 584.2,316.7 586.0,322.1"/>
<polygon points="581.7,324.3 581.2,321.0 585.3,322.1"/>
<polygon points="581.6,327.6 580.5,325.2 587.6,323.4"/>
<polygon points="580.0,332.7 580.0,329.2 587.9,330.9"/>
<polygon points="577.5,337.3 577.9,334.0 586.5,336.7"/>
<polygon points="574.2,341.9 575.5,338.9 583.9,344.5"/>
<polygon points="572.7,346.2 572.5,343.3 581.5,344.1"/>
<polygon points="569.6,347.1 573.1,345.0 574.3,350.8"/>
<polygon points="566.2,350.5 570.6,349.3 570.9,359.5"/>
<polygon points="564.1,355.1 565.7,352.3 570.2,356.6"/>
<polygon points="560.1,358.3 564.1,356.0 564.4,361.3"/>
<polygon points="557.0,364.6 559.5,361.1 561.5,365.1"/>
<polygon points="554.7,370.0 555.2,367.1 562.8,370.0"/>
<polygon points="550.9,372.9 552.9,370.4 558.8,377.3"/>
<polygon points="546.3,376.6 549.5,374.0 552.3,380.7"/>
<polygon points="541.6,380.0 545.5,378.9 545.3,385.6"/>
<polygon points="536.5,383.0 541.2,382.9 539.1,392.3"/>
<polygon points="532.7,386.0 536.0,385.5 535.6,394.1"/>
<polygon points="529.5,388.2 532.0,388.4 530.3,393.8"/>
<polygon points="524.7,394.0 525.0,391.4 534.6,394.0"/>
<polygon points="521.4,395.1 524.2,393.8 524.8,398.7"/>
<polygon points="517.7,399.6 519.7,397.4 526.1,405.5"/>
<polygon points="512.7,404.5 513.8,402.4 520.4,407.2"/>
<polygon points="509.3,405.8 512.8,405.1 512.1,410.7"/>
<polygon points="504.1,411.2 506.2,409.5 508.5,414.6"/>
<polygon points="502.3,414.6 505.6,411.7 510.1,420.1"/>
<polygon points="501.4,421.3 501.8,417.0 511.0,420.0"/>
<polygon points="500.1,424.1 500.4,421.0 509.6,423.5"/>
<polygon points="497.5,426.9 501.2,424.5 502.9,431.4"/>
<polygon points="497.0,430.1 498.8,427.7 502.7,432.7"/>
<polygon points="496.4,435.3 496.6,432.2 502.6,434.0"/>
<polygon points="496.1,441.6 497.1,438.6 503.7,442.4"/>
<polygon points="497.8,446.4 495.7,443.0 500.5,442.3"/>
<polygon points="495.8,448.7 497.5,445.3 502.3,449.8"/>
<polygon points="496.1,454.1 497.0,450.0 503.5,453.5"/>
<polygon points="496.7,458.3 496.4,455.9 502.3,456.4"/>
<polygon points="496.6,462.4 496.9,459.7 502.6,461.7"/>
<polygon points="497.9,470.0 496.9,466.5 504.4,466.1"/>
<polygon points="498.8,476.4 497.5,474.2 505.0,471.4"/>
<polygon points="499.9,480.8 497.3,477.0 507.1,473.0"/>
<polygon points="498.4,484.3 499.5,481.4 503.0,484.4"/>
<polygon points="498.8,488.2 499.8,485.5 506.3,489.5"/>
</g>
<g fill="#d1d2d4">
<ellipse cx="731.4" cy="196.4" rx="2.3" ry="0.9" transform="rotate(-84 731.4 196.4)"/>
<ellipse cx="732.0" cy="199.5" rx="1.2" ry="1.4" transform="rotate(-69 732.0 199.5)"/>
<ellipse cx="729.8" cy="193.3" rx="1.1" ry="0.9" transform="rotate(-110 729.8 193.3)"/>
<ellipse cx="728.0" cy="190.1" rx="2.1" ry="1.3" transform="rotate(-111 728.0 190.1)"/>
<ellipse cx="728.9" cy="186.8" rx="1.6" ry="0.8" transform="rotate(-80 728.9 186.8)"/>
<ellipse cx="725.3" cy="185.3" rx="2.0" ry="1.6" transform="rotate(-97 725.3 185.3)"/>
<ellipse cx="728.7" cy="175.6" rx="1.2" ry="0.8" transform="rotate(-151 728.7 175.6)"/>
<ellipse cx="723.7" cy="171.5" rx="1.5" ry="0.9" transform="rotate(-172 723.7 171.5)"/>
<ellipse cx="719.8" cy="167.6" rx="1.5" ry="0.9" transform="rotate(-172 719.8 167.6)"/>
<ellipse cx="716.9" cy="167.2" rx="3.1" ry="1.1" transform="rotate(-181 716.9 167.2)"/>
<ellipse cx="709.5" cy="165.9" rx="3.1" ry="0.9" transform="rotate(-169 709.5 165.9)"/>
<ellipse cx="713.6" cy="168.8" rx="1.1" ry="1.6" transform="rotate(-197 713.6 168.8)"/>
<ellipse cx="705.1" cy="168.1" rx="2.2" ry="1.5" transform="rotate(-144 705.1 168.1)"/>
<ellipse cx="704.2" cy="168.2" rx="1.8" ry="1.2" transform="rotate(-146 704.2 168.2)"/>
<ellipse cx="693.0" cy="169.7" rx="3.0" ry="1.3" transform="rotate(172 693.0 169.7)"/>
<ellipse cx="697.1" cy="167.6" rx="1.7" ry="1.6" transform="rotate(181 697.1 167.6)"/>
<ellipse cx="688.9" cy="170.4" rx="3.0" ry="1.5" transform="rotate(191 688.9 170.4)"/>
<ellipse cx="682.2" cy="171.5" rx="3.2" ry="1.5" transform="rotate(180 682.2 171.5)"/>
<ellipse cx="676.3" cy="175.2" rx="2.1" ry="0.9" transform="rotate(149 676.3 175.2)"/>
<ellipse cx="673.6" cy="182.5" rx="3.0" ry="1.3" transform="rotate(126 673.6 182.5)"/>
<ellipse cx="661.4" cy="184.7" rx="2.9" ry="1.3" transform="rotate(110 661.4 184.7)"/>
<ellipse cx="664.6" cy="187.5" rx="1.5" ry="1.1" transform="rotate(121 664.6 187.5)"/>
<ellipse cx="658.4" cy="189.2" rx="1.1" ry="1.3" transform="rotate(159 658.4 189.2)"/>
<ellipse cx="659.6" cy="191.3" rx="2.0" ry="0.7" transform="rotate(107 659.6 191.3)"/>
<ellipse cx="655.6" cy="198.8" rx="2.0" ry="1.3" transform="rotate(124 655.6 198.8)"/>
<ellipse cx="645.9" cy="205.1" rx="3.0" ry="1.0" transform="rotate(160 645.9 205.1)"/>
<ellipse cx="636.4" cy="210.6" rx="1.7" ry="1.5" transform="rotate(96 636.4 210.6)"/>
<ellipse cx="635.9" cy="214.1" rx="1.1" ry="1.4" transform="rotate(153 635.9 214.1)"/>
<ellipse cx="635.7" cy="217.6" rx="2.1" ry="1.4" transform="rotate(165 635.7 217.6)"/>
<ellipse cx="633.2" cy="221.8" rx="2.6" ry="1.3" transform="rotate(134 633.2 221.8)"/>
<ellipse cx="634.1" cy="221.6" rx="2.9" ry="1.5" transform="rotate(167 634.1 221.6)"/>
<ellipse cx="628.9" cy="222.8" rx="1.1" ry="1.6" transform="rotate(154 628.9 222.8)"/>
<ellipse cx="629.2" cy="223.2" rx="2.5" ry="0.8" transform="rotate(166 629.2 223.2)"/>
<ellipse cx="625.2" cy="225.3" rx="3.0" ry="1.1" transform="rotate(150 625.2 225.3)"/>
<ellipse cx="621.4" cy="227.6" rx="1.7" ry="1.0" transform="rotate(159 621.4 227.6)"/>
<ellipse cx="622.4" cy="229.5" rx="1.6" ry="0.9" transform="rotate(131 622.4 229.5)"/>
<ellipse cx="615.1" cy="234.4" rx="2.8" ry="1.5" transform="rotate(175 615.1 234.4)"/>
<ellipse cx="614.8" cy="235.0" rx="3.0" ry="0.8" transform="rotate(122 614.8 235.0)"/>
<ellipse cx="614.0" cy="239.1" rx="2.5" ry="0.7" transform="rotate(174 614.0 239.1)"/>
<ellipse cx="611.1" cy="243.8" rx="1.2" ry="0.7" transform="rotate(118 611.1 243.8)"/>
<ellipse cx="606.7" cy="246.8" rx="2.1" ry="1.1" transform="rotate(129 606.7 246.8)"/>
<ellipse cx="606.7" cy="258.0" rx="1.4" ry="1.2" transform="rotate(137 606.7 258.0)"/>
<ellipse cx="598.9" cy="261.8" rx="2.8" ry="0.9" transform="rotate(135 598.9 261.8)"/>
<ellipse cx="600.0" cy="269.3" rx="1.8" ry="1.3" transform="rotate(144 600.0 269.3)"/>
<ellipse cx="594.2" cy="276.3" rx="2.4" ry="1.3" transform="rotate(70 594.2 276.3)"/>
<ellipse cx="594.7" cy="280.4" rx="1.2" ry="0.9" transform="rotate(109 594.7 280.4)"/>
<ellipse cx="592.0" cy="282.8" rx="2.7" ry="0.7" transform="rotate(106 592.0 282.8)"/>
<ellipse cx="592.4" cy="284.4" rx="2.3" ry="0.8" transform="rotate(111 592.4 284.4)"/>
<ellipse cx="593.4" cy="288.9" rx="2.6" ry="1.0" transform="rotate(72 593.4 288.9)"/>
<ellipse cx="590.0" cy="287.1" rx="1.9" ry="1.5" transform="rotate(148 590.0 287.1)"/>
<ellipse cx="584.6" cy="292.4" rx="1.5" ry="1.2" transform="rotate(132 584.6 292.4)"/>
<ellipse cx="585.1" cy="301.3" rx="1.1" ry="1.2" transform="rotate(96 585.1 301.3)"/>
<ellipse cx="584.7" cy="308.8" rx="3.0" ry="1.4" transform="rotate(98 584.7 308.8)"/>
<ellipse cx="578.6" cy="328.1" rx="2.6" ry="1.5" transform="rotate(124 578.6 328.1)"/>
<ellipse cx="573.8" cy="332.7" rx="1.8" ry="1.3" transform="rotate(124 573.8 332.7)"/>
<ellipse cx="572.0" cy="338.6" rx="1.2" ry="0.8" transform="rotate(135 572.0 338.6)"/>
<ellipse cx="570.5" cy="343.7" rx="1.8" ry="1.4" transform="rotate(147 570.5 343.7)"/>
<ellipse cx="565.7" cy="350.5" rx="1.7" ry="1.0" transform="rotate(162 565.7 350.5)"/>
<ellipse cx="562.4" cy="352.4" rx="1.4" ry="1.2" transform="rotate(157 562.4 352.4)"/>
<ellipse cx="560.6" cy="359.0" rx="2.1" ry="1.2" transform="rotate(142 560.6 359.0)"/>
<ellipse cx="558.5" cy="363.0" rx="2.6" ry="1.5" transform="rotate(93 558.5 363.0)"/>
<ellipse cx="533.7" cy="383.7" rx="2.6" ry="1.6" transform="rotate(124 533.7 383.7)"/>
<ellipse cx="530.7" cy="386.0" rx="2.4" ry="1.4" transform="rotate(144 530.7 386.0)"/>
<ellipse cx="523.8" cy="389.6" rx="1.5" ry="1.3" transform="rotate(109 523.8 389.6)"/>
<ellipse cx="518.6" cy="394.4" rx="2.1" ry="0.9" transform="rotate(122 518.6 394.4)"/>
<ellipse cx="516.2" cy="396.2" rx="2.8" ry="1.0" transform="rotate(117 516.2 396.2)"/>
<ellipse cx="511.8" cy="400.2" rx="2.8" ry="1.3" transform="rotate(111 511.8 400.2)"/>
<ellipse cx="502.0" cy="413.0" rx="2.6" ry="0.8" transform="rotate(147 502.0 413.0)"/>
<ellipse cx="499.2" cy="417.8" rx="1.2" ry="1.4" transform="rotate(113 499.2 417.8)"/>
<ellipse cx="499.0" cy="422.6" rx="2.0" ry="1.3" transform="rotate(79 499.0 422.6)"/>
<ellipse cx="495.0" cy="426.9" rx="1.0" ry="1.6" transform="rotate(120 495.0 426.9)"/>
<ellipse cx="494.5" cy="435.2" rx="2.5" ry="0.9" transform="rotate(76 494.5 435.2)"/>
<ellipse cx="494.9" cy="445.1" rx="1.3" ry="0.8" transform="rotate(124 494.9 445.1)"/>
<ellipse cx="493.8" cy="457.6" rx="3.2" ry="1.4" transform="rotate(51 493.8 457.6)"/>
<ellipse cx="494.5" cy="459.5" rx="2.7" ry="1.4" transform="rotate(106 494.5 459.5)"/>
<ellipse cx="494.7" cy="470.2" rx="3.2" ry="1.2" transform="rotate(60 494.7 470.2)"/>
<ellipse cx="495.8" cy="474.1" rx="2.5" ry="1.0" transform="rotate(82 495.8 474.1)"/>
<ellipse cx="496.2" cy="481.3" rx="2.2" ry="0.9" transform="rotate(110 496.2 481.3)"/>
<ellipse cx="498.3" cy="490.2" rx="1.1" ry="0.9" transform="rotate(97 498.3 490.2)"/>
</g>
<polyline points="288,566 295,569 300,568 306,572 310,577 315,580 318,586" fill="none" stroke="#fff" stroke-width="1.2"/>
<text x="40.2" y="77.8" font-size="40" font-weight="bold" fill="#3d3d3e" textLength="351.5" lengthAdjust="spacingAndGlyphs">Beer Taxes in Europe</text>
<text x="42.0" y="118.6" font-size="27.7" font-style="italic" fill="#3d3d3e" textLength="1078.5" lengthAdjust="spacingAndGlyphs">Excise Duty per 330ml (11.2oz) Beer Bottle at 5% abv in European Union (EU) Member States</text>
<text x="41.2" y="147.6" font-size="27.7" font-style="italic" fill="#3d3d3e" textLength="470.5" lengthAdjust="spacingAndGlyphs">and the United Kingdom, as of July 2021</text>
<text x="184.5" y="330.6" font-size="23" font-weight="bold" fill="#484849" textLength="28.1" lengthAdjust="spacingAndGlyphs">IS*</text>
<text x="486.7" y="330.9" font-size="23" font-weight="bold" fill="#484849" textLength="46.5" lengthAdjust="spacingAndGlyphs">NO*</text>
<text x="617.4" y="331.9" font-size="23" font-weight="bold" fill="#ffffff" textLength="27.0" lengthAdjust="spacingAndGlyphs">SE</text>
<text x="602.9" y="356.4" font-size="23" fill="#ffffff" textLength="62.0" lengthAdjust="spacingAndGlyphs">€0.32</text>
<text x="617.4" y="378.8" font-size="23" fill="#ffffff" textLength="28.6" lengthAdjust="spacingAndGlyphs">#4</text>
<text x="727.9" y="368.3" font-size="23" font-weight="bold" fill="#ffffff" textLength="20.7" lengthAdjust="spacingAndGlyphs">FI</text>
<text x="710.2" y="390.6" font-size="23" fill="#ffffff" textLength="61.3" lengthAdjust="spacingAndGlyphs">€0.63</text>
<text x="723.9" y="414.3" font-size="23" fill="#ffffff" textLength="27.3" lengthAdjust="spacingAndGlyphs">#1</text>
<text x="801.3" y="413.7" font-size="23" font-weight="bold" fill="#484849" textLength="26.6" lengthAdjust="spacingAndGlyphs">EE</text>
<text x="783.3" y="432.2" font-size="23" fill="#505152" textLength="61.4" lengthAdjust="spacingAndGlyphs">€0.21</text>
<text x="797.5" y="449.8" font-size="23" fill="#505152" textLength="27.4" lengthAdjust="spacingAndGlyphs">#5</text>
<text x="839.3" y="479.3" font-size="23" font-weight="bold" fill="#484849" textLength="28.6" lengthAdjust="spacingAndGlyphs">LV</text>
<text x="822.0" y="503.5" font-size="23" fill="#505152" textLength="61.8" lengthAdjust="spacingAndGlyphs">€0.14</text>
<text x="835.8" y="525.9" font-size="23" fill="#505152" textLength="27.4" lengthAdjust="spacingAndGlyphs">#8</text>
<text x="277.2" y="472.1" font-size="23" font-weight="bold" fill="#484849" textLength="32.9" lengthAdjust="spacingAndGlyphs">GB</text>
<text x="266.1" y="495.4" font-size="23" fill="#505152" textLength="60.9" lengthAdjust="spacingAndGlyphs">€0.35</text>
<text x="280.1" y="518.2" font-size="23" fill="#505152" textLength="27.3" lengthAdjust="spacingAndGlyphs">#3</text>
<text x="214.6" y="586.8" font-size="23" font-weight="bold" fill="#484849" textLength="18.4" lengthAdjust="spacingAndGlyphs">IE</text>
<text x="196.2" y="609.6" font-size="23" fill="#505152" textLength="61.1" lengthAdjust="spacingAndGlyphs">€0.37</text>
<text x="210.2" y="632.4" font-size="23" fill="#505152" textLength="27.2" lengthAdjust="spacingAndGlyphs">#2</text>
<text x="481.0" y="532.7" font-size="23" font-weight="bold" fill="#484849" textLength="34.5" lengthAdjust="spacingAndGlyphs">DK</text>
<text x="469.8" y="554.5" font-size="23" fill="#505152" textLength="61.0" lengthAdjust="spacingAndGlyphs">€0.11</text>
<text x="476.9" y="576.3" font-size="23" fill="#505152" textLength="41.6" lengthAdjust="spacingAndGlyphs">#13</text>
<text x="443.3" y="602.4" font-size="23" font-weight="bold" fill="#484849" textLength="29.2" lengthAdjust="spacingAndGlyphs">NL</text>
<text x="429.2" y="625.2" font-size="23" fill="#505152" textLength="62.2" lengthAdjust="spacingAndGlyphs">€0.13</text>
<text x="443.3" y="648.1" font-size="23" fill="#505152" textLength="26.9" lengthAdjust="spacingAndGlyphs">#9</text>
<text x="540.0" y="677.5" font-size="23" font-weight="bold" fill="#484849" textLength="30.9" lengthAdjust="spacingAndGlyphs">DE</text>
<text x="527.0" y="699.9" font-size="23" fill="#505152" textLength="61.1" lengthAdjust="spacingAndGlyphs">€0.03</text>
<text x="534.8" y="724.2" font-size="23" fill="#505152" textLength="40.9" lengthAdjust="spacingAndGlyphs">#24</text>
<text x="689.5" y="640.3" font-size="23" font-weight="bold" fill="#484849" textLength="26.6" lengthAdjust="spacingAndGlyphs">PL</text>
<text x="674.0" y="662.8" font-size="23" fill="#505152" textLength="61.1" lengthAdjust="spacingAndGlyphs">€0.08</text>
<text x="681.8" y="686.1" font-size="23" fill="#505152" textLength="40.4" lengthAdjust="spacingAndGlyphs">#16</text>
<text x="412.6" y="782.3" font-size="23" font-weight="bold" fill="#484849" textLength="28.7" lengthAdjust="spacingAndGlyphs">FR</text>
<text x="394.9" y="808.0" font-size="23" fill="#505152" textLength="61.5" lengthAdjust="spacingAndGlyphs">€0.13</text>
<text x="411.2" y="833.8" font-size="23" fill="#505152" textLength="27.5" lengthAdjust="spacingAndGlyphs">#9</text>
<text x="278.6" y="931.5" font-size="23" font-weight="bold" fill="#484849" textLength="26.4" lengthAdjust="spacingAndGlyphs">ES</text>
<text x="263.5" y="955.8" font-size="23" fill="#505152" textLength="61.5" lengthAdjust="spacingAndGlyphs">€0.03</text>
<text x="270.6" y="978.9" font-size="23" fill="#505152" textLength="41.5" lengthAdjust="spacingAndGlyphs">#24</text>
<text x="126.9" y="922.3" font-size="23" font-weight="bold" fill="#484849" textLength="28.1" lengthAdjust="spacingAndGlyphs">PT</text>
<text x="112.1" y="947.2" font-size="23" fill="#505152" textLength="62.3" lengthAdjust="spacingAndGlyphs">€0.07</text>
<text x="119.8" y="970.3" font-size="23" fill="#505152" textLength="41.8" lengthAdjust="spacingAndGlyphs">#20</text>
<text x="596.2" y="954.6" font-size="23" font-weight="bold" fill="#484849" textLength="20.1" lengthAdjust="spacingAndGlyphs">IT</text>
<text x="577.4" y="975.5" font-size="23" fill="#505152" textLength="61.7" lengthAdjust="spacingAndGlyphs">€0.12</text>
<text x="584.0" y="999.6" font-size="23" fill="#505152" textLength="39.6" lengthAdjust="spacingAndGlyphs">#11</text>
<text x="803.4" y="1051.6" font-size="23" font-weight="bold" fill="#484849" textLength="31.9" lengthAdjust="spacingAndGlyphs">GR</text>
<text x="791.8" y="1074.7" font-size="23" fill="#505152" textLength="60.7" lengthAdjust="spacingAndGlyphs">€0.21</text>
<text x="805.7" y="1096.2" font-size="23" fill="#505152" textLength="27.0" lengthAdjust="spacingAndGlyphs">#5</text>
<text x="921.5" y="1033.4" font-size="23" font-weight="bold" fill="#484849" textLength="31.2" lengthAdjust="spacingAndGlyphs">CY</text>
<text x="909.2" y="1056.5" font-size="23" fill="#505152" textLength="61.7" lengthAdjust="spacingAndGlyphs">€0.10</text>
<text x="917.2" y="1079.7" font-size="23" fill="#505152" textLength="40.5" lengthAdjust="spacingAndGlyphs">#14</text>
<text x="949.6" y="946.7" font-size="23" font-weight="bold" fill="#484849" textLength="38.5" lengthAdjust="spacingAndGlyphs">TR*</text>
<text x="800.2" y="775.6" font-size="23" font-weight="bold" fill="#484849" textLength="33.1" lengthAdjust="spacingAndGlyphs">RO</text>
<text x="788.2" y="798.2" font-size="23" fill="#505152" textLength="62.0" lengthAdjust="spacingAndGlyphs">€0.03</text>
<text x="796.0" y="821.9" font-size="23" fill="#505152" textLength="41.5" lengthAdjust="spacingAndGlyphs">#24</text>
<text x="1090.8" y="235.5" font-size="23" font-weight="bold" fill="#484849" textLength="26.2" lengthAdjust="spacingAndGlyphs">LT</text>
<text x="1094.9" y="266.9" font-size="23" fill="#505152" textLength="61.3" lengthAdjust="spacingAndGlyphs">€0.12</text>
<text x="1114.9" y="289.5" font-size="23" fill="#505152" textLength="41.3" lengthAdjust="spacingAndGlyphs">#11</text>
<text x="1086.7" y="329.0" font-size="23" font-weight="bold" fill="#484849" textLength="30.3" lengthAdjust="spacingAndGlyphs">CZ</text>
<text x="1094.9" y="360.5" font-size="23" fill="#505152" textLength="61.3" lengthAdjust="spacingAndGlyphs">€0.05</text>
<text x="1114.9" y="383.2" font-size="23" fill="#505152" textLength="41.3" lengthAdjust="spacingAndGlyphs">#23</text>
<text x="1086.7" y="418.9" font-size="23" font-weight="bold" fill="#484849" textLength="30.3" lengthAdjust="spacingAndGlyphs">SK</text>
<text x="1094.9" y="448.1" font-size="23" fill="#505152" textLength="61.3" lengthAdjust="spacingAndGlyphs">€0.06</text>
<text x="1114.9" y="471.8" font-size="23" fill="#505152" textLength="41.3" lengthAdjust="spacingAndGlyphs">#22</text>
<text x="1086.1" y="509.6" font-size="23" font-weight="bold" fill="#484849" textLength="30.9" lengthAdjust="spacingAndGlyphs">AT</text>
<text x="1092.9" y="539.5" font-size="23" fill="#505152" textLength="61.8" lengthAdjust="spacingAndGlyphs">€0.08</text>
<text x="1112.5" y="562.6" font-size="23" fill="#505152" textLength="42.2" lengthAdjust="spacingAndGlyphs">#16</text>
<text x="1083.2" y="600.3" font-size="23" font-weight="bold" fill="#484849" textLength="34.9" lengthAdjust="spacingAndGlyphs">HU</text>
<text x="1097.0" y="629.9" font-size="23" fill="#505152" textLength="61.2" lengthAdjust="spacingAndGlyphs">€0.07</text>
<text x="1115.5" y="653.2" font-size="23" fill="#505152" textLength="41.2" lengthAdjust="spacingAndGlyphs">#20</text>
<text x="1083.6" y="689.9" font-size="23" font-weight="bold" fill="#484849" textLength="32.4" lengthAdjust="spacingAndGlyphs">BG</text>
<text x="1097.0" y="718.5" font-size="23" fill="#505152" textLength="61.9" lengthAdjust="spacingAndGlyphs">€0.03</text>
<text x="1117.0" y="741.8" font-size="23" fill="#505152" textLength="41.9" lengthAdjust="spacingAndGlyphs">#24</text>
<text x="97.2" y="670.7" font-size="23" font-weight="bold" fill="#484849" textLength="28.4" lengthAdjust="spacingAndGlyphs">BE</text>
<text x="113.1" y="706.3" font-size="23" fill="#505152" textLength="61.6" lengthAdjust="spacingAndGlyphs">€0.08</text>
<text x="123.4" y="726.3" font-size="23" fill="#505152" textLength="41.3" lengthAdjust="spacingAndGlyphs">#16</text>
<text x="96.9" y="772.6" font-size="23" font-weight="bold" fill="#484849" textLength="28.7" lengthAdjust="spacingAndGlyphs">LU</text>
<text x="102.8" y="802.0" font-size="23" fill="#505152" textLength="61.9" lengthAdjust="spacingAndGlyphs">€0.03</text>
<text x="123.4" y="820.1" font-size="23" fill="#505152" textLength="41.3" lengthAdjust="spacingAndGlyphs">#24</text>
<text x="322.4" y="1074.6" font-size="23" font-weight="bold" fill="#484849" textLength="44.5" lengthAdjust="spacingAndGlyphs">CH*</text>
<text x="473.6" y="1075.6" font-size="23" font-weight="bold" fill="#484849" textLength="36.9" lengthAdjust="spacingAndGlyphs">MT</text>
<text x="496.2" y="1105.3" font-size="23" fill="#505152" textLength="61.6" lengthAdjust="spacingAndGlyphs">€0.08</text>
<text x="516.0" y="1129.5" font-size="23" fill="#505152" textLength="41.8" lengthAdjust="spacingAndGlyphs">#16</text>
<text x="580.5" y="1075.6" font-size="23" font-weight="bold" fill="#484849" textLength="20.7" lengthAdjust="spacingAndGlyphs">SI</text>
<text x="580.5" y="1105.3" font-size="23" fill="#505152" textLength="61.0" lengthAdjust="spacingAndGlyphs">€0.20</text>
<text x="613.6" y="1129.5" font-size="23" fill="#505152" textLength="27.9" lengthAdjust="spacingAndGlyphs">#7</text>
<text x="662.5" y="1075.9" font-size="23" font-weight="bold" fill="#484849" textLength="33.0" lengthAdjust="spacingAndGlyphs">HR</text>
<text x="677.1" y="1105.3" font-size="23" fill="#505152" textLength="62.0" lengthAdjust="spacingAndGlyphs">€0.09</text>
<text x="696.9" y="1129.5" font-size="23" fill="#505152" textLength="41.2" lengthAdjust="spacingAndGlyphs">#15</text>
<line x1="801.8" y1="454" x2="785.9" y2="470.2" stroke="#4a4a4a" stroke-width="1.3"/>
<line x1="822.8" y1="505.2" x2="807.1" y2="517" stroke="#4a4a4a" stroke-width="1.3"/>
<rect x="1122" y="209.3" width="34" height="34.4" fill="#df9b88"/>
<rect x="1122" y="303.4" width="34" height="34" fill="#eda885"/>
<rect x="1122" y="393.6" width="34" height="34" fill="#eda885"/>
<rect x="1122" y="483.4" width="34" height="34.4" fill="#e8a385"/>
<rect x="1124" y="574" width="34.2" height="33.6" fill="#e8a385"/>
<rect x="1124" y="663.6" width="34.2" height="34" fill="#f2ad83"/>
<rect x="134" y="644" width="34.1" height="33.9" fill="#e8a385"/>
<rect x="131.8" y="746" width="34.2" height="34" fill="#f2ad83"/>
<rect x="371.2" y="1047.2" width="36.4" height="36.4" fill="#d1d2d4"/>
<rect x="522.7" y="1048.9" width="34.4" height="34" fill="#e8a385"/>
<rect x="606.8" y="1048.9" width="34" height="34" fill="#cd878a"/>
<rect x="703.7" y="1049.8" width="34.7" height="33.8" fill="#e8a385"/>
<text x="38.1" y="1179.2" font-size="16.7" fill="#5f6060" textLength="686.8" lengthAdjust="spacingAndGlyphs">Note: Excise duties can be levied per alcohol content (abv), per degree Plato (°P), or as a</text>
<text x="38.1" y="1199.2" font-size="16.7" fill="#5f6060" textLength="651.6" lengthAdjust="spacingAndGlyphs">fixed amount for defined abv/°P brackets. To make these excise duties comparable,</text>
<text x="38.1" y="1218.8" font-size="16.7" fill="#5f6060" textLength="702.8" lengthAdjust="spacingAndGlyphs">degrees Plato were converted into alcohol content (1°P generates approximately 0.4 abv).</text>
<text x="38.1" y="1245.4" font-size="16.7" fill="#5f6060" textLength="650.1" lengthAdjust="spacingAndGlyphs">*Iceland, Norway, Switzerland, and Turkey are not part of the European Union (EU).</text>
<text x="38.1" y="1271.1" font-size="16.7" fill="#5f6060" textLength="704.1" lengthAdjust="spacingAndGlyphs">Source: European Commission, &quot;Taxes in Europe Database;&quot; and Gov.uk, &quot;Tax on shopping</text>
<text x="38.1" y="1290.8" font-size="16.7" fill="#5f6060" textLength="105.6" lengthAdjust="spacingAndGlyphs">and services.&quot;</text>
<text x="942.0" y="1177.0" font-size="20.5" font-weight="bold" fill="#4a4a4b" textLength="272.7" lengthAdjust="spacingAndGlyphs">Excise Duty per 330ml (11.2oz)</text>
<text x="982.6" y="1200.0" font-size="20.5" font-weight="bold" fill="#4a4a4b" textLength="192.3" lengthAdjust="spacingAndGlyphs">Beer Bottle at 5% abv</text>
<rect x="904.1" y="1207.7" width="30.0" height="44.4" fill="#f2ae83"/>
<rect x="936.1" y="1207.7" width="30.0" height="44.4" fill="#e3a087"/>
<rect x="968.1" y="1207.7" width="30.0" height="44.4" fill="#d58f89"/>
<rect x="1000.0" y="1207.7" width="30.0" height="44.4" fill="#c8818b"/>
<rect x="1032.0" y="1207.7" width="30.0" height="44.4" fill="#b8738d"/>
<rect x="1064.0" y="1207.7" width="30.0" height="44.4" fill="#a86890"/>
<rect x="1096.0" y="1207.7" width="30.0" height="44.4" fill="#985b94"/>
<rect x="1128.0" y="1207.7" width="30.0" height="44.4" fill="#894e97"/>
<rect x="1159.9" y="1207.7" width="30.0" height="44.4" fill="#7c419b"/>
<rect x="1191.9" y="1207.7" width="30.0" height="44.4" fill="#6e2ea1"/>
<text x="891.9" y="1275.9" font-size="17.5" font-weight="bold" fill="#4a4a4b" textLength="56.2" lengthAdjust="spacingAndGlyphs">Lower</text>
<text x="1177.5" y="1280.0" font-size="17.5" font-weight="bold" fill="#4a4a4b" textLength="61.6" lengthAdjust="spacingAndGlyphs">Higher</text>
<rect x="0" y="1312" width="1330" height="46" fill="#0094ff"/>
<text x="39.8" y="1343.0" font-size="25" fill="#ffffff" textLength="206.3" lengthAdjust="spacingAndGlyphs">TAX FOUNDATION</text>
<text x="1105.2" y="1340.0" font-size="23.5" font-weight="bold" fill="#ffffff" textLength="169.0" lengthAdjust="spacingAndGlyphs">@TaxFoundation</text>
</svg></body></html>
